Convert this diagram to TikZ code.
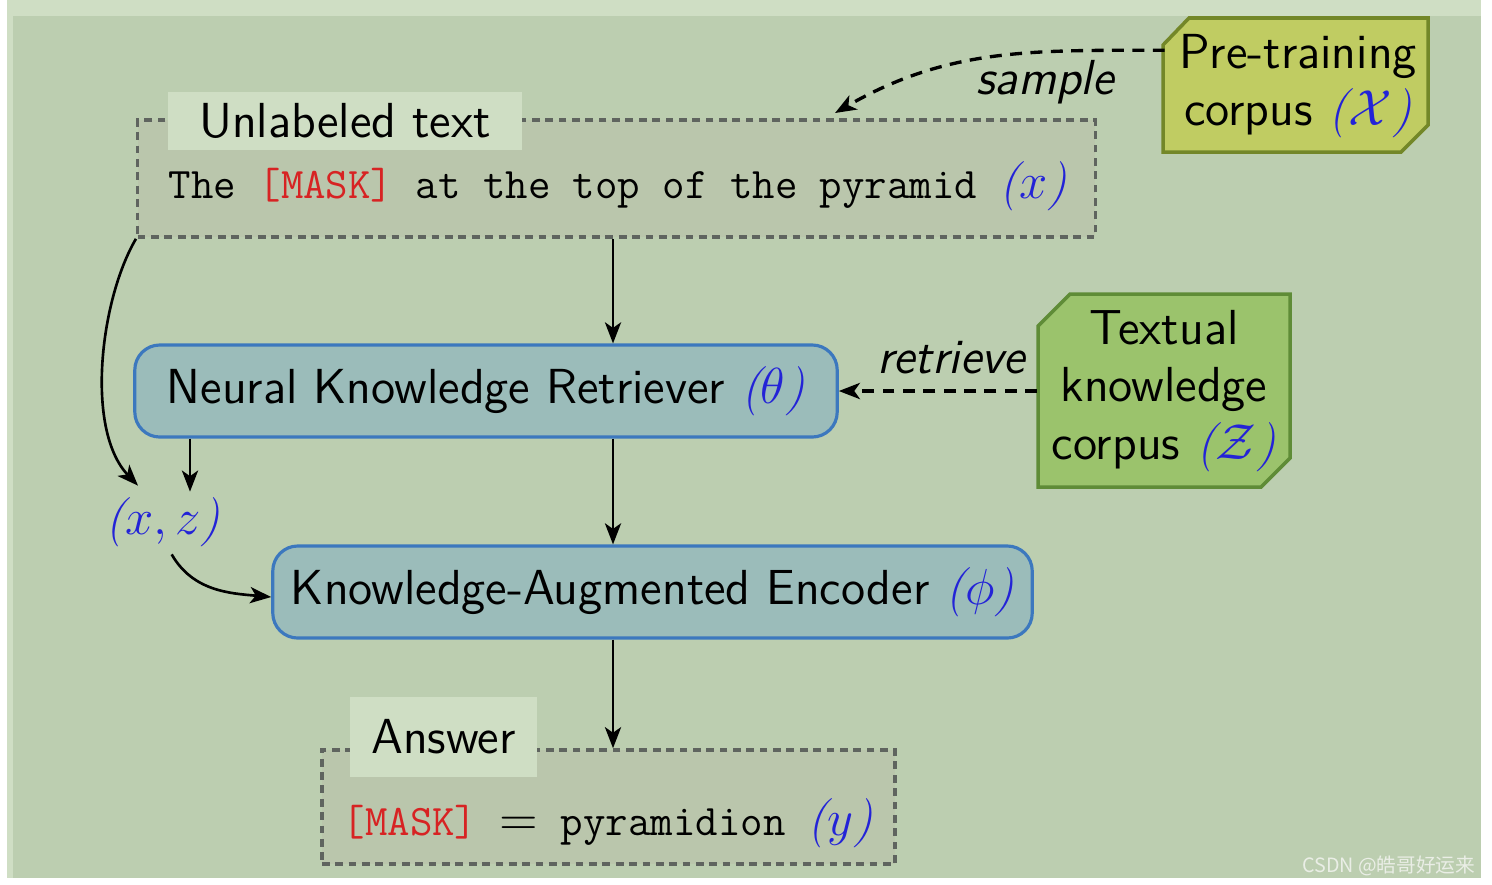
\documentclass[tikz,border=0pt]{standalone}
\usepackage{fontspec}
\newfontfamily\cjkfont{Noto Sans CJK SC}
\usetikzlibrary{arrows.meta,calc}
\definecolor{bgmain}{RGB}{188,206,176}
\definecolor{framelight}{RGB}{207,222,196}
\definecolor{dboxfill}{RGB}{186,198,172}
\definecolor{dboxdraw}{RGB}{95,100,95}
\definecolor{bbfill}{RGB}{155,188,186}
\definecolor{bbdraw}{RGB}{60,120,190}
\definecolor{pcfill}{RGB}{192,204,98}
\definecolor{pcdraw}{RGB}{115,135,40}
\definecolor{tkfill}{RGB}{155,195,108}
\definecolor{tkdraw}{RGB}{95,140,55}
\definecolor{mblue}{RGB}{35,35,215}
\definecolor{mred}{RGB}{215,35,35}
\definecolor{wm}{RGB}{234,238,230}
\newcommand\fsans{\fontsize{14}{16.3}\selectfont\sffamily}
\newcommand\ftt{\fontsize{12.4}{14}\selectfont\ttfamily}
\newcommand\fmath{\fontsize{14}{16.3}\selectfont}
\newcommand\bparen[1]{\textcolor{mblue}{\fmath\rmfamily\itshape($#1$)}}
\tikzset{
  bluebox/.style={draw=bbdraw, fill=bbfill, rounded corners=0.25cm, line width=0.9pt, inner sep=0pt, font=\fsans},
  dbox/.style={draw=dboxdraw, fill=dboxfill, dash pattern=on 2.2pt off 1.6pt, line width=1pt, inner sep=0pt},
  lab/.style={fill=framelight, inner sep=0pt, font=\fsans},
  corpus/.style={inner sep=0pt, align=center, font=\fsans},
  arr/.style={-{Stealth[length=6pt,width=4.6pt,inset=1.6pt]}, line width=0.75pt, black},
  darr/.style={-{Stealth[length=6pt,width=4.6pt,inset=1.6pt]}, line width=0.95pt, black, dash pattern=on 3.4pt off 2.4pt},
  edgelab/.style={font=\fsans\itshape, inner sep=0pt}
}
\begin{document}
\begin{tikzpicture}[x=0.01cm,y=-0.01cm]
\useasboundingbox (0,0) rectangle (1492,884);
\fill[white] (0,0) rectangle (1492,884);
\fill[framelight] (7,0) rectangle (1481,878);
\fill[bgmain] (13,16) rectangle (1481,878);

% corpora shapes
\filldraw[fill=pcfill, draw=pcdraw, line width=1pt] (1163,45) -- (1189,18) -- (1428,18) -- (1428,125) -- (1401,152) -- (1163,152) -- cycle;
\node[corpus, minimum width=2.65cm, minimum height=1.34cm] (pre) at (1298,86) {Pre-training\\corpus \bparen{\mathcal{X}}};
\filldraw[fill=tkfill, draw=tkdraw, line width=1pt] (1038,326) -- (1070,294) -- (1290,294) -- (1290,458) -- (1261,487) -- (1038,487) -- cycle;
\node[corpus, minimum width=2.52cm, minimum height=1.93cm] (tk) at (1164,391) {Textual\\knowledge\\corpus \bparen{\mathcal{Z}}};

% unlabeled text box
\node[dbox, minimum width=9.57cm, minimum height=1.17cm] (ut) at (616.5,178.5) {};
\node[lab, minimum width=3.54cm, minimum height=0.58cm] (utl) at (345,121) {Unlabeled text};
\node[font=\ftt, anchor=base, inner sep=0pt] (utt) at (618,198) {The \textcolor{mred}{[MASK]} at the top of the pyramid \bparen{x}};

% model boxes
\node[bluebox, minimum width=7.02cm, minimum height=0.92cm] (ret) at (486,391) {Neural Knowledge Retriever \bparen{\theta}};
\node[bluebox, minimum width=7.59cm, minimum height=0.92cm] (enc) at (652.5,592) {Knowledge-Augmented Encoder \bparen{\phi}};

% (x,z)
\node[inner sep=2pt] (xz) at (163,522) {\bparen{x,z}};

% answer box
\node[dbox, minimum width=5.73cm, minimum height=1.14cm] (ans) at (608.5,807) {};
\node[lab, minimum width=1.87cm, minimum height=0.80cm] (ansl) at (443.5,737) {Answer};
\node[font=\ftt, anchor=base, inner sep=0pt] (anst) at (608,835) {\textcolor{mred}{[MASK]} {\fmath$=$} pyramidion \bparen{y}};

% coordinates for vertical spines
\coordinate (spine) at (613,0);
\coordinate (xzr) at (190,0);
\coordinate (xzl) at (138,0);
\coordinate (sampleend) at (835,113);

% connectors
\draw[arr] (ut.south -| spine) -- (ret.north -| spine);
\draw[arr] (ret.south -| spine) -- (enc.north -| spine);
\draw[arr] (enc.south -| spine) -- (ans.north -| spine);
\draw[arr] (ret.south -| xzr) -- ([yshift=-0.02cm]xz.north -| xzr);
\draw[arr] (ut.south west) .. controls (100,300) and (85,430) .. ([yshift=0.04cm]xz.north -| xzl);
\draw[arr] (xz.-75) to[out=-60,in=175] ([yshift=-0.05cm]enc.west);
\draw[darr] (pre.165) to[out=180,in=30] (sampleend);
\node[edgelab] (samplelab) at (1045,82) {sample};
\draw[darr] (tk.west) -- (ret.east);
\node[edgelab] (retrlab) at (951,358) {retrieve};

% watermark
\node[font=\cjkfont\fontsize{5.6}{7}\selectfont, text=wm, anchor=base east, inner sep=0pt] (wmk) at (1476,872) {CSDN @皓哥好运来};
\end{tikzpicture}
\end{document}
